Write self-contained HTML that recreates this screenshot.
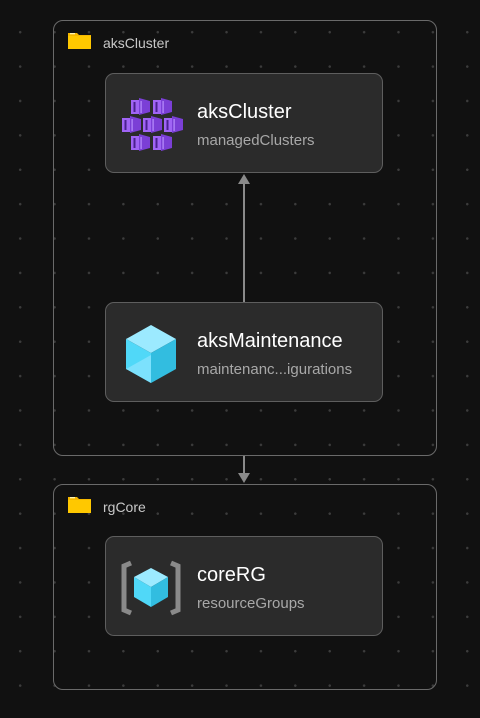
<!DOCTYPE html>
<html><head><style>
*{margin:0;padding:0;box-sizing:border-box}
body{width:480px;height:718px;overflow:hidden;background:#111111;font-family:"Liberation Sans",sans-serif;position:relative}
.dots{position:absolute;inset:0;background-image:radial-gradient(circle,#3c3c3c 1.1px,transparent 1.4px);background-size:34.4px 34.4px;background-position:3px 15px}
.grp{position:absolute;border:1.5px solid #6a6a6a;border-radius:10px}
.gl{position:absolute;color:#c8c8c8;font-size:14px}
.fold{position:absolute;width:23px;height:17px}
.node{position:absolute;left:105px;width:278px;height:100px;background:#2b2b2b;border:1.5px solid #5e5e5e;border-radius:9px}
.t{position:absolute;left:91px;top:27px;color:#fff;font-size:20px}
.s{position:absolute;left:91px;top:58px;color:#a8a8a8;font-size:15px}
.ic{position:absolute}
</style></head><body>
<div class="dots"></div>
<div class="grp" style="left:53px;top:20px;width:384px;height:436px"></div>
<div class="grp" style="left:53px;top:484px;width:384px;height:206px"></div>
<svg class="fold" style="left:68px;top:32px" viewBox="0 0 23 17"><path d="M0 1h9l2 2h12v14H0z" fill="#f5b800"/><rect x="0" y="4" width="23" height="13" fill="#ffc800"/><rect x="2" y="1" width="5" height="1.3" fill="#fff3b0"/></svg>
<div class="gl" style="left:103px;top:35px">aksCluster</div>
<svg class="fold" style="left:68px;top:496px" viewBox="0 0 23 17"><path d="M0 1h9l2 2h12v14H0z" fill="#f5b800"/><rect x="0" y="4" width="23" height="13" fill="#ffc800"/><rect x="2" y="1" width="5" height="1.3" fill="#fff3b0"/></svg>
<div class="gl" style="left:103px;top:499px">rgCore</div>
<svg style="position:absolute;left:0;top:0" width="480" height="718">
<line x1="244" y1="302" x2="244" y2="182" stroke="#8a8a8a" stroke-width="2"/>
<path d="M238 184 L244 174 L250 184z" fill="#8a8a8a"/>
<line x1="244" y1="456" x2="244" y2="474" stroke="#8a8a8a" stroke-width="2"/>
<path d="M238 473 L244 483 L250 473z" fill="#8a8a8a"/>
</svg>
<div class="node" style="top:73px">
<svg class="ic" style="left:0;top:0" width="90" height="100" viewBox="0 0 90 100">
<defs><g id="c"><rect x="0" y="2" width="8" height="14" fill="#a064f5"/><path d="M8 0 L19 3 V14 L8 17z" fill="#7b3fd6"/><rect x="2.5" y="4" width="2" height="10" fill="#4a2090"/><rect x="9.5" y="3" width="1.2" height="12" fill="#b890ff"/></g></defs>
<use href="#c" x="25" y="24"/><use href="#c" x="47" y="24"/>
<use href="#c" x="16" y="42"/><use href="#c" x="37" y="42"/><use href="#c" x="58" y="42"/>
<use href="#c" x="25" y="60"/><use href="#c" x="47" y="60"/>
</svg>
<div class="t">aksCluster</div><div class="s">managedClusters</div>
</div>
<div class="node" style="top:302px">
<svg class="ic" style="left:19px;top:22px" width="52" height="58" viewBox="0 0 52 58">
<path d="M26 0 L51 14 L26 28 L1 14z" fill="#9ceaff"/>
<path d="M1 14 L26 28 V58 L1 44z" fill="#50d8f8"/>
<path d="M51 14 L26 28 V58 L51 44z" fill="#32bde0"/>
<path d="M1 44 L26 30 L26 58z" fill="#8fe6ff" opacity=".7"/>
</svg>
<div class="t">aksMaintenance</div><div class="s">maintenanc...igurations</div>
</div>
<div class="node" style="top:536px">
<svg class="ic" style="left:14px;top:23px" width="62" height="56" viewBox="0 0 62 56">
<path d="M11 3 L4 6 V50 L11 53" fill="none" stroke="#8a8a8a" stroke-width="5"/>
<path d="M51 3 L58 6 V50 L51 53" fill="none" stroke="#8a8a8a" stroke-width="5"/>
<path d="M31 8 L48 17 L31 27 L14 17z" fill="#9ceaff"/>
<path d="M14 17 L31 27 V47 L14 37z" fill="#50d8f8"/>
<path d="M48 17 L31 27 V47 L48 37z" fill="#32bde0"/>
</svg>
<div class="t">coreRG</div><div class="s">resourceGroups</div>
</div>
</body></html>
